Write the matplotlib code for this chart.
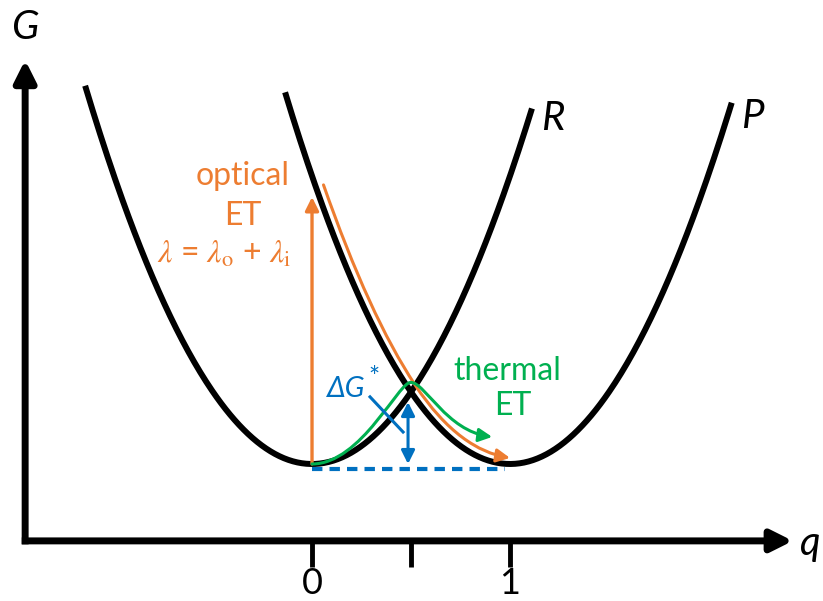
import matplotlib
matplotlib.use('Agg')
import matplotlib.pyplot as plt
import numpy as np
from matplotlib.patches import FancyArrowPatch
from matplotlib.path import Path

plt.rcParams['font.family'] = ['Lato', 'DejaVu Sans']
plt.rcParams['mathtext.fontset'] = 'stix'

# ---------------- data ----------------
lam = 1.0                      # reorganisation energy (sets parabola curvature)
q_R_range = [-1.146, 1.111]    # extent of reactant parabola R
q_P_range = [-0.136, 2.12]     # extent of product parabola P
q_R_min = 0.0
q_P_min = 1.0
tick_positions = [0.0, 0.5, 1.0]
tick_labels = ['0', '', '1']

# optical ET path (Bezier vertices, q / G)
optical_q = [0.058, 0.289, 0.52, 0.68, 0.84, 1.0]
optical_G = [0.969, 0.515, 0.275, 0.109, 0.040, 0.021]
optical_codes = [Path.MOVETO, Path.CURVE3, Path.CURVE3, Path.CURVE4, Path.CURVE4, Path.CURVE4]
optical_vertical_top = 0.927

# thermal ET path (Bezier vertices, q / G)
thermal_q = [0.0, 0.25, 0.44, 0.50, 0.57, 0.68, 0.91]
thermal_G = [0.0, 0.0, 0.29, 0.283, 0.283, 0.115, 0.094]
thermal_codes = [Path.MOVETO, Path.CURVE4, Path.CURVE4, Path.CURVE4, Path.CURVE4, Path.CURVE4, Path.CURVE4]

# activation barrier
dG_q = 0.485
dG_range = [0.0, 0.215]
baseline_G = -0.017
baseline_q = [0.0, 0.975]
pointer_q = [0.293, 0.46]
pointer_G = [0.233, 0.111]

ORANGE = '#ED7D31'
GREEN = '#00B050'
BLUE = '#0070C0'

# ---------------- figure ----------------
fig = plt.figure(figsize=(8.23, 6.01), dpi=100)
ax = fig.add_axes([0, 0, 1, 1])
ax.set_xlim(-1.576, 2.581)
ax.set_ylim(-0.4757, 1.611)
ax.axis('off')

# axes with arrows
x_axis_G = -0.267
y_axis_q = -1.449
ax.add_patch(FancyArrowPatch((y_axis_q - 0.017, x_axis_G), (2.429, x_axis_G),
                             arrowstyle='-|>,head_length=13,head_width=6.5', mutation_scale=1,
                             lw=5, color='black', shrinkA=0, shrinkB=0, capstyle='butt'))
ax.add_patch(FancyArrowPatch((y_axis_q, x_axis_G - 0.012), (y_axis_q, 1.403),
                             arrowstyle='-|>,head_length=13,head_width=6.5', mutation_scale=1,
                             lw=5, color='black', shrinkA=0, shrinkB=0, capstyle='butt'))
for tp, tl in zip(tick_positions, tick_labels):
    ax.plot([tp, tp], [x_axis_G, -0.358], color='black', lw=3.5, solid_capstyle='butt')
    if tl:
        ax.text(tp, -0.452, tl, ha='center', va='baseline', fontsize=26)

ax.text(y_axis_q, 1.514, 'G', ha='center', va='center', fontsize=29, style='italic')
ax.text(2.515, x_axis_G - 0.01, 'q', ha='center', va='center', fontsize=29, style='italic')

# parabolas
qR = np.linspace(q_R_range[0], q_R_range[1], 300)
qP = np.linspace(q_P_range[0], q_P_range[1], 300)
ax.plot(qR, lam * (qR - q_R_min) ** 2, color='black', lw=4.3, solid_capstyle='butt', zorder=3)
ax.plot(qP, lam * (qP - q_P_min) ** 2, color='black', lw=4.3, solid_capstyle='butt', zorder=3)
ax.text(1.217, 1.201, 'R', ha='center', va='center', fontsize=29, style='italic')
ax.text(2.222, 1.205, 'P', ha='center', va='center', fontsize=29, style='italic')

# optical ET
ax.add_patch(FancyArrowPatch((0.0, 0.0), (0.0, optical_vertical_top),
                             arrowstyle='-|>,head_length=8,head_width=4', mutation_scale=1,
                             lw=2.4, color=ORANGE, shrinkA=0, shrinkB=0, zorder=4))
opt_path = Path(np.column_stack([optical_q, optical_G]), optical_codes)
ax.add_patch(FancyArrowPatch(path=opt_path,
                             arrowstyle='-|>,head_length=8,head_width=4', mutation_scale=1,
                             lw=2.2, color=ORANGE, zorder=4))
ax.text(-0.348, 0.969, 'optical', ha='center', va='baseline', fontsize=23, color=ORANGE)
ax.text(-0.348, 0.830, 'ET', ha='center', va='baseline', fontsize=23, color=ORANGE)
ax.text(-0.444, 0.698, r'$\lambda$ = $\lambda_{\mathrm{o}}$ + $\lambda_{\mathrm{i}}$',
        ha='center', va='baseline', fontsize=23, color=ORANGE)

# thermal ET
th_path = Path(np.column_stack([thermal_q, thermal_G]), thermal_codes)
ax.add_patch(FancyArrowPatch(path=th_path,
                             arrowstyle='-|>,head_length=8,head_width=4', mutation_scale=1,
                             lw=2.2, color=GREEN, zorder=5))
ax.text(0.985, 0.292, 'thermal', ha='center', va='baseline', fontsize=23, color=GREEN)
ax.text(1.015, 0.170, 'ET', ha='center', va='baseline', fontsize=23, color=GREEN)

# activation barrier
ax.add_patch(FancyArrowPatch((dG_q, dG_range[0]), (dG_q, dG_range[1]),
                             arrowstyle='<|-|>,head_length=8,head_width=4', mutation_scale=1,
                             lw=2.2, color=BLUE, shrinkA=0, shrinkB=0, zorder=6))
ax.plot(baseline_q, [baseline_G, baseline_G], color=BLUE, lw=3, ls=(0, (2.5, 1.7)), zorder=2)
ax.plot(pointer_q, pointer_G, color=BLUE, lw=2.2, zorder=6)
ax.text(0.175, 0.233, 'ΔG', ha='center', va='baseline', fontsize=21, color=BLUE, style='italic')
ax.text(0.312, 0.296, '*', ha='center', va='center', fontsize=19, color=BLUE)

fig.savefig('out.png', dpi=100)
